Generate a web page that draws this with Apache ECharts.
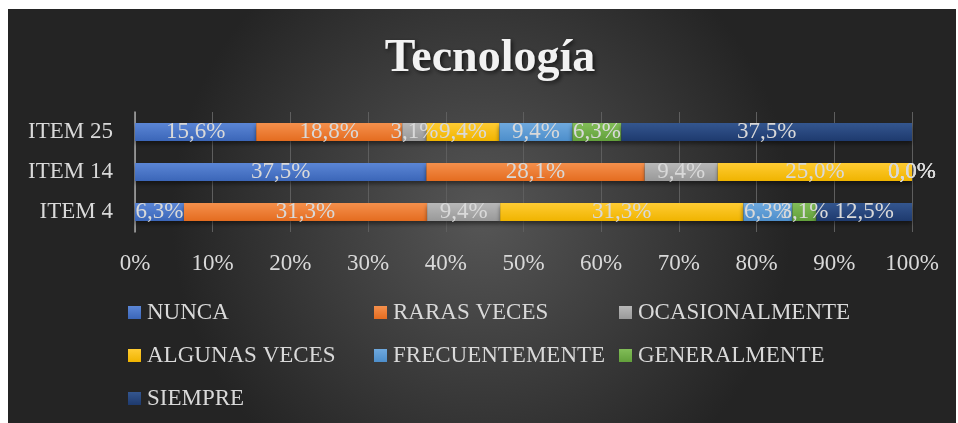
<!DOCTYPE html>
<html>
<head>
<meta charset="utf-8">
<script src="https://cdn.jsdelivr.net/npm/echarts@6/dist/echarts.min.js"></script>
<style>
  html, body { margin: 0; padding: 0; background: #fff; }
  #chart { position: absolute; left: 8px; top: 9px; width: 948px; height: 414px; }
</style>
</head>
<body>
<div id="chart"></div>
<script>
// categories (bottom to top, as ECharts draws them)
const items = ['ITEM 4', 'ITEM 14', 'ITEM 25'];
const seriesNames = ['NUNCA', 'RARAS VECES', 'OCASIONALMENTE', 'ALGUNAS VECES', 'FRECUENTEMENTE', 'GENERALMENTE', 'SIEMPRE'];
// percentages per item, order: ITEM 4, ITEM 14, ITEM 25
const nunca = [6.3, 37.5, 15.6];
const rarasVeces = [31.3, 28.1, 18.8];
const ocasionalmente = [9.4, 9.4, 3.1];
const algunasVeces = [31.3, 25.0, 9.4];
const frecuentemente = [6.3, 0.0, 9.4];
const generalmente = [3.1, 0.0, 6.3];
const siempre = [12.5, 0.0, 37.5];
const xTicks = [0, 10, 20, 30, 40, 50, 60, 70, 80, 90, 100];

const values = [nunca, rarasVeces, ocasionalmente, algunasVeces, frecuentemente, generalmente, siempre];
const colors = [
  ['#5b86d6', '#3b66b8'],
  ['#f5904c', '#e46c20'],
  ['#b8b8b8', '#999999'],
  ['#ffcc33', '#f0b400'],
  ['#6fa9de', '#4d8ecb'],
  ['#82bd58', '#62a03b'],
  ['#34568f', '#1e3a6e']
];
const serif = '"Liberation Serif", "DejaVu Serif", serif';
const textColor = '#d9d9d9';

function pct(v) {
  return v.toFixed(1).replace('.', ',') + '%';
}

const chart = echarts.init(document.getElementById('chart'));

const series = seriesNames.map(function (name, i) {
  return {
    name: name,
    type: 'bar',
    stack: 'total',
    barWidth: 18,
    data: values[i],
    itemStyle: {
      color: new echarts.graphic.LinearGradient(0, 0, 0, 1, [
        { offset: 0, color: colors[i][0] },
        { offset: 1, color: colors[i][1] }
      ]),
      shadowColor: 'rgba(0,0,0,0.45)',
      shadowBlur: 4,
      shadowOffsetY: 3
    },
    label: {
      show: true,
      position: 'inside',
      color: textColor,
      fontFamily: serif,
      fontSize: 23,
      formatter: function (p) { return pct(p.value); }
    }
  };
});

const option = {
  backgroundColor: new echarts.graphic.RadialGradient(0.5, 0.5, 0.75, [
    { offset: 0, color: '#565656' },
    { offset: 1, color: '#242424' }
  ]),
  animation: false,
  title: {
    text: 'Tecnología',
    left: 477,
    textAlign: 'center',
    top: 22,
    textStyle: {
      fontFamily: serif,
      fontWeight: 'bold',
      fontSize: 46,
      color: '#f2f2f2',
      textShadowColor: 'rgba(0,0,0,0.6)',
      textShadowBlur: 4,
      textShadowOffsetX: 2,
      textShadowOffsetY: 2
    }
  },
  grid: { left: 127, right: 44, top: 103, bottom: 191 },
  xAxis: {
    type: 'value',
    min: 0,
    max: 100,
    interval: 10,
    axisLine: { show: false },
    axisTick: { show: false },
    splitLine: { lineStyle: { color: '#5e5e5e', width: 1 } },
    axisLabel: {
      color: textColor,
      fontFamily: serif,
      fontSize: 23,
      margin: 20,
      formatter: function (v) { return xTicks.indexOf(v) >= 0 ? v + '%' : ''; }
    }
  },
  yAxis: {
    type: 'category',
    data: items,
    axisLine: { show: true, lineStyle: { color: '#a6a6a6', width: 1.5 } },
    axisTick: { show: false },
    axisLabel: {
      color: textColor,
      fontFamily: serif,
      fontSize: 23,
      margin: 22
    }
  },
  legend: [
    { data: ['NUNCA', 'ALGUNAS VECES', 'SIEMPRE'], left: 120 },
    { data: ['RARAS VECES', 'FRECUENTEMENTE'], left: 366 },
    { data: ['OCASIONALMENTE', 'GENERALMENTE'], left: 611 }
  ].map(function (l) {
    return {
      data: l.data,
      left: l.left,
      top: 292,
      padding: 0,
      orient: 'vertical',
      itemGap: 20,
      itemWidth: 13,
      itemHeight: 13,
      icon: 'rect',
      textStyle: { color: textColor, fontFamily: serif, fontSize: 23, padding: [0, 0, 0, 1] }
    };
  }),
  series: series
};

chart.setOption(option);
</script>
</body>
</html>
